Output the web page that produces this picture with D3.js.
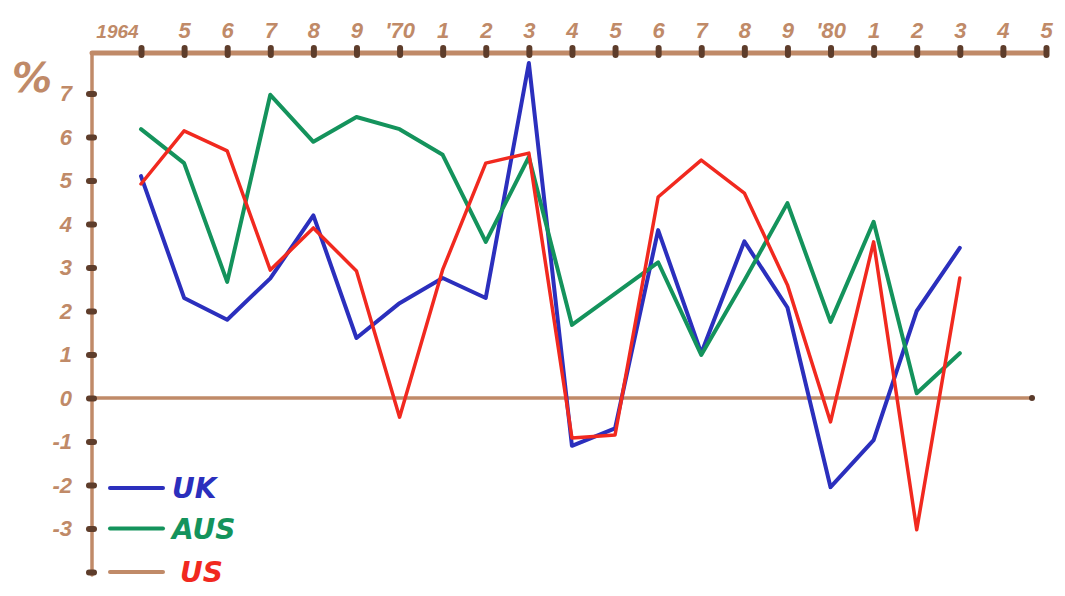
<!DOCTYPE html>
<html lang="en">
<head>
    <meta charset="UTF-8">
    <title>UK, AUS, US - % per year</title>
    <script src="https://d3js.org/d3.v7.min.js"></script>
    <style>
        body {
            margin: 0;
            background: #fff;
            font-family: "DejaVu Sans", sans-serif;
        }
        .axis-line {
            stroke: #c08a68;
            stroke-linecap: round;
        }
        .tick-lbl {
            fill: #c08a68;
            font-weight: bold;
            font-style: italic;
            font-size: 22px;
        }
        .series {
            fill: none;
            stroke-linejoin: round;
            stroke-linecap: round;
        }
    </style>
</head>
<body>
    <div id="chart"></div>
    <script>
        // data
        var years = d3.range(1964, 1984);
        var uk  = [5.1, 2.3, 1.8, 2.75, 4.2, 1.38, 2.18, 2.76, 2.3, 7.7, -1.1, -0.7, 3.86, 1.03, 3.6, 2.08, -2.05, -0.97, 2.0, 3.45];
        var aus = [6.18, 5.4, 2.67, 6.97, 5.89, 6.46, 6.18, 5.59, 3.59, 5.54, 1.68, 2.4, 3.12, 0.99, 2.7, 4.48, 1.75, 4.05, 0.11, 1.03];
        var us  = [4.92, 6.14, 5.68, 2.94, 3.91, 2.92, -0.44, 2.95, 5.4, 5.63, -0.92, -0.85, 4.62, 5.47, 4.71, 2.6, -0.55, 3.59, -3.03, 2.76];
        var xTickYears = d3.range(1964, 1986);
        var xTickLabels = ["1964", "5", "6", "7", "8", "9", "'70", "1", "2", "3", "4", "5", "6", "7", "8", "9", "'80", "1", "2", "3", "4", "5"];
        var yTicks = [7, 6, 5, 4, 3, 2, 1, 0, -1, -2, -3, -4];
        var yTickLabels = ["7", "6", "5", "4", "3", "2", "1", "0", "-1", "-2", "-3", ""];
        var legendNames = ["UK", "AUS", "US"];
        var lineColors = ["#2b2fbd", "#14935c", "#f1291f"];
        var legendLineColors = ["#2b2fbd", "#14935c", "#c08a68"];

        var W = 1065, H = 596;
        var axisX = 92, axisTop = 53;

        var svg = d3.select("#chart").append("svg")
            .attr("width", W)
            .attr("height", H);

        var x = d3.scaleLinear().domain([1964, 1985]).range([141, 1046]);
        var y = d3.scaleLinear().domain([-4, 7]).range([572, 93.5]);

        // frame lines: top axis, left axis, zero line
        svg.append("line").attr("class", "axis-line")
            .attr("x1", axisX).attr("y1", axisTop)
            .attr("x2", x(1985)).attr("y2", axisTop)
            .attr("stroke-width", 5);
        svg.append("line").attr("class", "axis-line")
            .attr("x1", axisX).attr("y1", axisTop)
            .attr("x2", axisX).attr("y2", y(-4) + 3)
            .attr("stroke-width", 3.5);
        svg.append("line").attr("class", "axis-line")
            .attr("x1", axisX).attr("y1", y(0))
            .attr("x2", x(1985) - 14).attr("y2", y(0))
            .attr("stroke-width", 3.5);
        svg.append("circle")
            .attr("cx", x(1985) - 14).attr("cy", y(0)).attr("r", 3)
            .attr("fill", "#5a3a2a");

        // top (x) axis
        var xAxis = d3.axisTop(x)
            .tickValues(xTickYears)
            .tickSize(0)
            .tickPadding(15)
            .tickFormat(function(d, i) { return xTickLabels[i]; });
        var gx = svg.append("g")
            .attr("transform", "translate(0," + axisTop + ")")
            .call(xAxis);
        gx.select(".domain").remove();
        gx.selectAll(".tick text")
            .attr("class", "tick-lbl")
            .attr("font-family", null).attr("font-size", null)
            .attr("text-anchor", "middle")
            .attr("dx", function(d, i) { return i === 0 ? -24 : 0; })
            .style("font-size", function(d, i) { return i === 0 ? "19px" : null; });
        gx.selectAll(".tick").append("rect")
            .attr("x", -3).attr("y", -8).attr("width", 6).attr("height", 13)
            .attr("rx", 3)
            .attr("fill", "#5e3d2b");

        // left (y) axis
        var yAxis = d3.axisLeft(y)
            .tickValues(yTicks)
            .tickSize(0)
            .tickPadding(20)
            .tickFormat(function(d, i) { return yTickLabels[i]; });
        var gy = svg.append("g")
            .attr("transform", "translate(" + axisX + ",0)")
            .call(yAxis);
        gy.select(".domain").remove();
        gy.selectAll(".tick text")
            .attr("class", "tick-lbl")
            .attr("font-family", null).attr("font-size", null);
        gy.selectAll(".tick").append("rect")
            .attr("x", -6).attr("y", -3).attr("width", 11).attr("height", 6)
            .attr("rx", 3)
            .attr("fill", "#5e3d2b");

        // % label
        svg.append("text")
            .attr("class", "tick-lbl")
            .attr("x", 12).attr("y", 92)
            .style("font-size", "40px")
            .text("%");

        // series lines
        var line = d3.line()
            .x(function(d, i) { return x(years[i]); })
            .y(function(d) { return y(d); });

        [uk, aus, us].forEach(function(s, k) {
            svg.append("path")
                .datum(s)
                .attr("class", "series")
                .attr("stroke", lineColors[k])
                .attr("stroke-width", k === 2 ? 3.5 : 4)
                .attr("d", line);
        });

        // legend
        var legendY = [-2, -3, -4];
        legendNames.forEach(function(name, k) {
            var ly = y(legendY[k]) - (k === 0 ? -3 : 0);
            svg.append("line")
                .attr("x1", 110).attr("x2", 163)
                .attr("y1", ly).attr("y2", ly)
                .attr("stroke", legendLineColors[k])
                .attr("stroke-width", 4)
                .attr("stroke-linecap", "round");
            svg.append("text")
                .attr("x", 172 + (k === 2 ? 8 : 0)).attr("y", ly + 10)
                .attr("fill", lineColors[k])
                .style("font-weight", "bold")
                .style("font-style", "italic")
                .style("font-size", "28px")
                .text(name);
        });
    </script>
</body>
</html>
